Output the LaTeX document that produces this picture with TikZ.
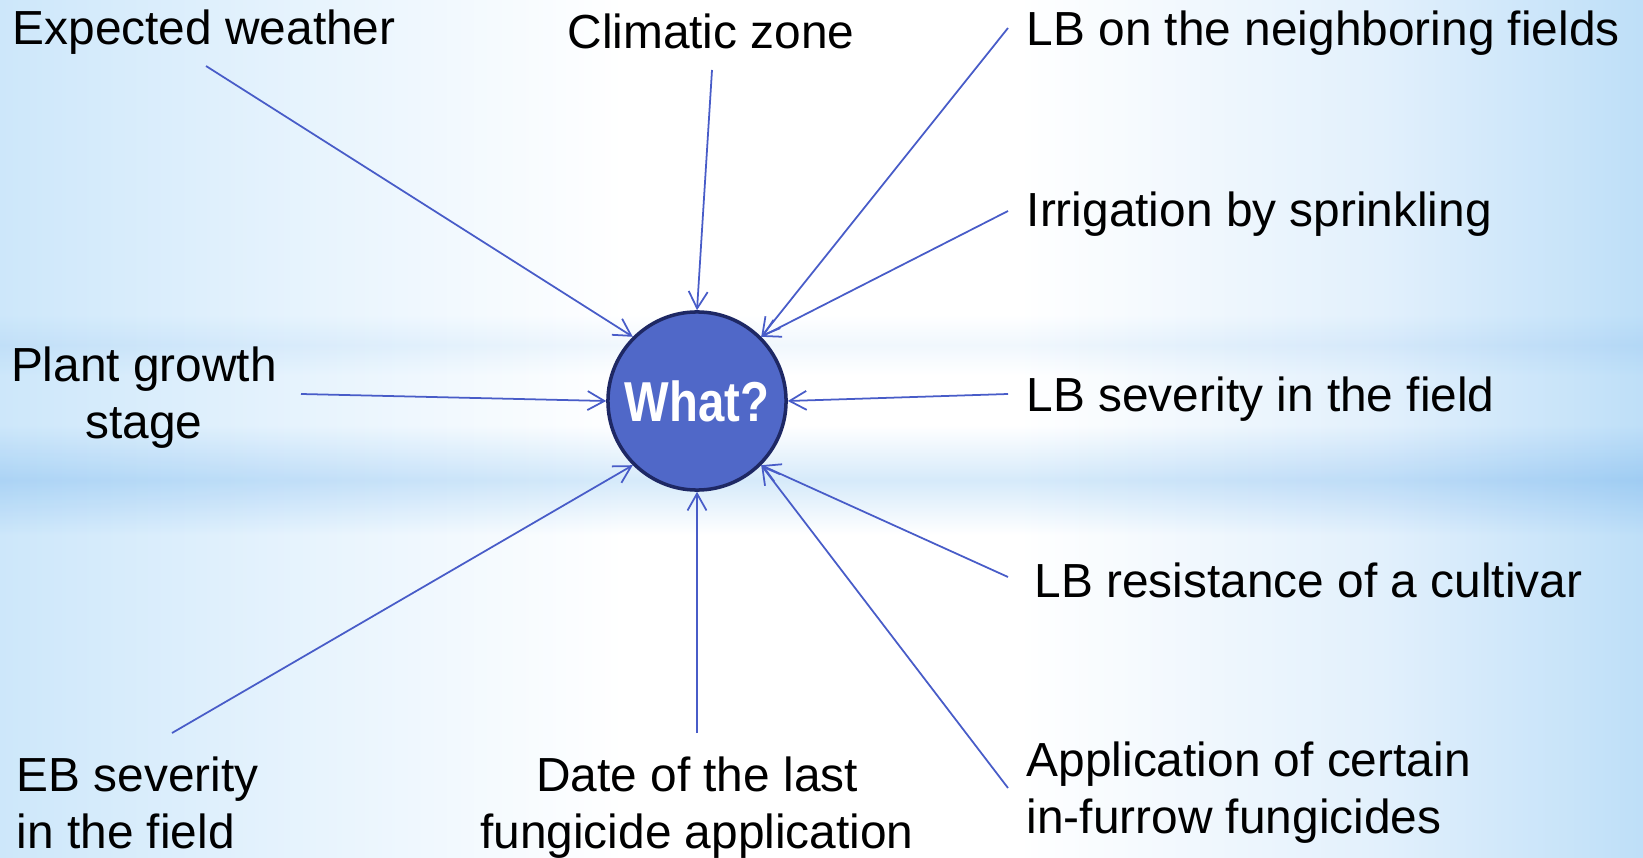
\documentclass[tikz,border=0pt]{standalone}
\usepackage{fontspec}
\setmainfont{Liberation Sans}
\usetikzlibrary{arrows.meta}

\definecolor{circfill}{RGB}{80,104,200}
\definecolor{circline}{RGB}{30,40,100}
\definecolor{arrowblue}{RGB}{72,92,200}
\definecolor{bgleft}{RGB}{205,231,250}
\definecolor{bgleftin}{RGB}{230,243,253}
\definecolor{bgrightin}{RGB}{226,240,252}
\definecolor{bgright}{RGB}{190,223,248}
\definecolor{bandblue}{RGB}{214,234,250}
\definecolor{bandpale}{RGB}{240,247,253}

% pgf maps the path onto 25bp..75bp of the shading
\pgfdeclarehorizontalshading{slidebg}{100bp}{color(0bp)=(bgleft); color(25bp)=(bgleft); color(34bp)=(bgleftin); color(44bp)=(white); color(56bp)=(white); color(67bp)=(bgrightin); color(75bp)=(bgright); color(100bp)=(bgright)}

\newcommand{\lblfont}{\fontsize{13.6pt}{16.1pt}\selectfont}

\tikzset{
  lbl/.style={font=\lblfont, inner sep=0pt, text=black},
  feed/.style={draw=arrowblue, line width=0.5pt, -{Straight Barb[length=4.8pt,width=5.4pt]}},
}

\begin{document}
\begin{tikzpicture}[x=0.01cm, y=-0.01cm]
            % slide background
            \useasboundingbox (0,0) rectangle (1643,858);
            \shade[shading=slidebg] (0,0) rectangle (1643,858);
            \shade[top color=white, bottom color=white, middle color=bandpale, blend mode=multiply] (0,315) rectangle (1643,375);
            \shade[top color=white, bottom color=white, middle color=bandblue, blend mode=multiply] (0,425) rectangle (1643,535);

            % centre
            \node[circle, draw=circline, line width=1pt, fill=circfill, minimum size=1.78cm, inner sep=0pt,
                  text=white, font=\fontsize{16pt}{18pt}\selectfont\bfseries] (what) at (697,401) {\scalebox{0.84}[1]{What?}};

            % factors
            \node[lbl, anchor=base west] (weather) at (12,45) {Expected weather};
            \node[lbl, anchor=base] (climate) at (711,49) {Climatic zone};
            \node[lbl, anchor=base west] (neighbor) at (1026,46) {LB on the neighboring fields};
            \node[lbl, anchor=base west] (irrig) at (1026,227) {Irrigation by sprinkling};
            \node[lbl, anchor=base, align=center] (growth) at (144,438) {Plant growth\\stage};
            \node[lbl, anchor=base west] (lbsev) at (1026,412) {LB severity in the field};
            \node[lbl, anchor=base west] (lbres) at (1034,597) {LB resistance of a cultivar};
            \node[lbl, anchor=base west, align=left] (ebsev) at (16,848) {EB severity\\in the field};
            \node[lbl, anchor=base, align=center] (lastdate) at (697,848) {Date of the last\\fungicide application};
            \node[lbl, anchor=base west, align=left] (furrow) at (1026,833) {Application of certain\\in-furrow fungicides};

            % arrow starts
            \coordinate (weather-s) at (206,66);
            \coordinate (climate-s) at (712,70);
            \coordinate (neighbor-s) at (1008,28);
            \coordinate (irrig-s) at (1008,211);
            \coordinate (lbsev-s) at (1008,394);
            \coordinate (lbres-s) at (1008,577);
            \coordinate (furrow-s) at (1008,788);
            \coordinate (lastdate-s) at (697,733);
            \coordinate (ebsev-s) at (172,733);
            \coordinate (growth-s) at (301,394);

            \draw[feed] (weather-s) -- (what.135);
            \draw[feed] (climate-s) -- (what.90);
            \draw[feed] (neighbor-s) -- (what.45);
            \draw[feed] (irrig-s) -- (what.45);
            \draw[feed] (lbsev-s) -- (what.0);
            \draw[feed] (lbres-s) -- (what.-45);
            \draw[feed] (furrow-s) -- (what.-45);
            \draw[feed] (lastdate-s) -- (what.-90);
            \draw[feed] (ebsev-s) -- (what.-135);
            \draw[feed] (growth-s) -- (what.180);
\end{tikzpicture}
\end{document}
